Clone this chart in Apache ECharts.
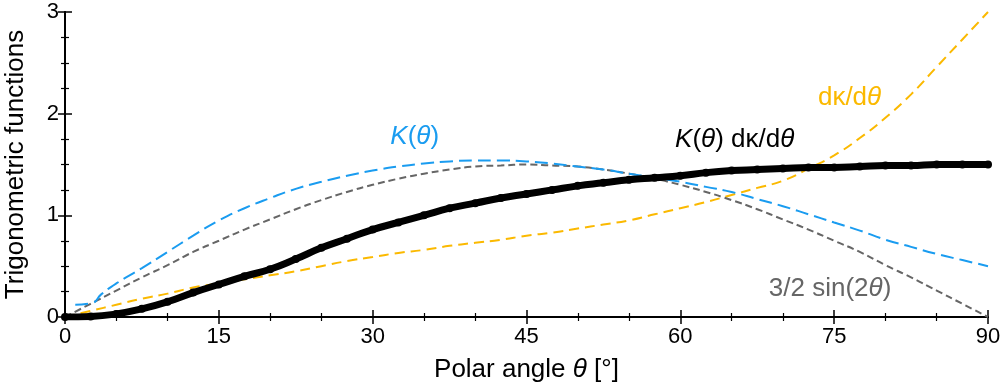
<!DOCTYPE html>
<html>
<head>
<meta charset="utf-8">
<script src="https://cdn.jsdelivr.net/npm/echarts@6/dist/echarts.min.js"></script>
<style>
  html, body { margin: 0; padding: 0; background: #fff; }
  #chart { width: 1001px; height: 385px; }
</style>
</head>
<body>
<div id="chart"></div>
<script>
const theta = [0, 2.5, 5, 7.5, 10, 12.5, 15, 17.5, 20, 22.5, 25, 27.5, 30, 32.5, 35, 37.5, 40, 42.5,
  45, 47.5, 50, 52.5, 55, 57.5, 60, 62.5, 65, 67.5, 70, 72.5, 75, 77.5, 80, 82.5, 85, 87.5, 90];

// K(theta), starts with a short flat piece near 0.13
const kTheta = [1, 2.7, 3.5, 5, 7.5, 10, 12.5, 15, 17.5, 20, 22.5, 25, 27.5, 30, 32.5, 35, 37.5, 40, 42.5,
  45, 47.5, 50, 52.5, 55, 57.5, 60, 62.5, 65, 67.5, 70, 72.5, 75, 77.5, 80, 82.5, 85, 87.5, 90];
const kValues = [0.12, 0.14, 0.22, 0.33, 0.48, 0.64, 0.80, 0.95, 1.07, 1.17, 1.26, 1.33, 1.39, 1.44, 1.48, 1.51, 1.53, 1.54, 1.54,
  1.53, 1.51, 1.48, 1.45, 1.41, 1.37, 1.33, 1.28, 1.23, 1.16, 1.09, 1.01, 0.93, 0.85, 0.76, 0.69, 0.62, 0.56, 0.50];

const sinValues = [0, 0.13, 0.26, 0.39, 0.51, 0.64, 0.75, 0.86, 0.96, 1.06, 1.15, 1.23, 1.30, 1.36, 1.41, 1.45, 1.48, 1.49,
  1.50, 1.49, 1.48, 1.45, 1.41, 1.36, 1.30, 1.23, 1.15, 1.06, 0.96, 0.86, 0.75, 0.64, 0.51, 0.39, 0.26, 0.13, 0];

const dkValues = [0, 0.06, 0.12, 0.18, 0.23, 0.29, 0.33, 0.37, 0.41, 0.45, 0.50, 0.55, 0.59, 0.63, 0.66, 0.70, 0.73, 0.76,
  0.80, 0.83, 0.87, 0.91, 0.95, 1.01, 1.07, 1.13, 1.20, 1.27, 1.34, 1.46, 1.59, 1.76, 1.96, 2.19, 2.46, 2.73, 3.0];

const prodValues = [0, 0.005, 0.03, 0.08, 0.15, 0.24, 0.32, 0.40, 0.47, 0.57, 0.68, 0.77, 0.86, 0.93, 1.00, 1.07, 1.12, 1.17,
  1.21, 1.25, 1.29, 1.32, 1.35, 1.37, 1.39, 1.42, 1.44, 1.45, 1.46, 1.47, 1.47, 1.48, 1.49, 1.49, 1.50, 1.50, 1.50];

const xTicks = [0, 15, 30, 45, 60, 75, 90];
const yTicks = [0, 1, 2, 3];

const BLUE = '#1a9cf0';
const ORANGE = '#fbb900';
const GRAY = '#666666';
const FONT = '"Liberation Sans", Arial, sans-serif';

const pair = (xs, ys) => xs.map((x, i) => [x, ys[i]]);

const tick = () => ({ show: true, inside: true, length: 7, lineStyle: { color: '#000', width: 1.5 } });
const minor = (n) => ({ show: true, splitNumber: n, length: 4, lineStyle: { color: '#000', width: 1.2 } });
const frame = () => ({ show: true, lineStyle: { color: '#000', width: 2 } });

function label(x, y, text, color, rich) {
  return {
    coord: [x, y],
    symbol: 'circle',
    symbolSize: 1,
    itemStyle: { color: 'rgba(0,0,0,0)' },
    label: { show: true, position: 'inside', formatter: text, color: color, fontFamily: FONT, fontSize: 26, rich: rich }
  };
}
const italic = (c) => ({ fontStyle: 'italic', color: c, fontFamily: FONT, fontSize: 26 });

const chart = echarts.init(document.getElementById('chart'));
chart.setOption({
  animation: false,
  backgroundColor: '#fff',
  grid: { left: 65, right: 13, top: 12, bottom: 68, outerBoundsMode: 'none', containLabel: false },
  xAxis: [
    {
      type: 'value', min: 0, max: 90, interval: 15, position: 'bottom',
      name: 'Polar angle {i|θ} [°]', nameLocation: 'middle', nameGap: 40,
      nameTextStyle: { fontFamily: FONT, fontSize: 26, color: '#000', rich: { i: italic('#000') } },
      axisLine: frame(), axisTick: tick(), minorTick: minor(3),
      axisLabel: {
        fontFamily: FONT, fontSize: 22, color: '#000', margin: 9,
        formatter: (v) => (xTicks.includes(v) ? String(v) : '')
      },
      splitLine: { show: false }
    },
    {
      type: 'value', min: 0, max: 90, interval: 15, position: 'top',
      axisLine: frame(), axisTick: tick(), minorTick: minor(3),
      axisLabel: { show: false }, splitLine: { show: false }
    }
  ],
  yAxis: [
    {
      type: 'value', min: 0, max: 3, interval: 1, position: 'left',
      name: 'Trigonometric functions', nameLocation: 'middle', nameGap: 36, nameRotate: 90,
      nameTextStyle: { fontFamily: FONT, fontSize: 26, color: '#000' },
      axisLine: frame(), axisTick: tick(), minorTick: minor(4),
      axisLabel: {
        fontFamily: FONT, fontSize: 22, color: '#000', margin: 6,
        formatter: (v) => (yTicks.includes(v) ? String(v) : '')
      },
      splitLine: { show: false }
    },
    {
      type: 'value', min: 0, max: 3, interval: 1, position: 'right',
      axisLine: frame(), axisTick: tick(), minorTick: minor(4),
      axisLabel: { show: false }, splitLine: { show: false }
    }
  ],
  series: [
    {
      name: 'dk', type: 'line', smooth: true, showSymbol: false, symbol: 'none',
      data: pair(theta, dkValues),
      lineStyle: { color: ORANGE, width: 2, type: [10, 6] },
      markPoint: { silent: true, data: [label(76.5, 2.16, 'dκ/d{i|θ}', ORANGE, { i: italic(ORANGE) })] },
      z: 2
    },
    {
      name: 'sin', type: 'line', smooth: true, showSymbol: false, symbol: 'none',
      data: pair(theta, sinValues),
      lineStyle: { color: GRAY, width: 2, type: [7, 4] },
      markPoint: { silent: true, data: [label(74.6, 0.28, '3/2 sin(2{i|θ})', GRAY, { i: italic(GRAY) })] },
      z: 3
    },
    {
      name: 'K', type: 'line', smooth: true, showSymbol: false, symbol: 'none',
      data: pair(kTheta, kValues),
      lineStyle: { color: BLUE, width: 2, type: [13, 6] },
      markPoint: { silent: true, data: [label(34.1, 1.77, '{i|K}({i|θ})', BLUE, { i: italic(BLUE) })] },
      z: 4
    },
    {
      name: 'prod', type: 'line', smooth: true, symbol: 'circle', symbolSize: 8, showSymbol: true,
      data: pair(theta, prodValues),
      itemStyle: { color: '#000' },
      lineStyle: { color: '#000', width: 7 },
      markPoint: { silent: true, data: [label(65.3, 1.74, '{i|K}({i|θ}) dκ/d{i|θ}', '#000', { i: italic('#000') })] },
      z: 5
    }
  ]
});
</script>
</body>
</html>
